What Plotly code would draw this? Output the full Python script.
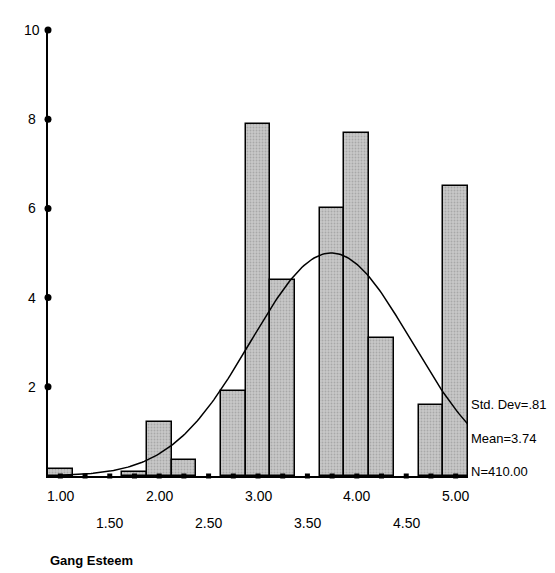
import numpy as np
import plotly.graph_objects as go

bin_centers = [1.0, 1.75, 2.0, 2.25, 2.75, 3.0, 3.25, 3.75, 4.0, 4.25, 4.75, 5.0]
counts = [0.15, 0.1, 1.2, 0.35, 1.9, 7.9, 4.4, 6.0, 7.7, 3.1, 1.6, 6.5]
x_labels_top = ["1.00", "2.00", "3.00", "4.00", "5.00"]
x_labels_low = ["1.50", "2.50", "3.50", "4.50"]
y_ticks = [2, 4, 6, 8, 10]
std_dev, mean, n = 0.81, 3.74, 410.00
curve_peak = 5.0

fig = go.Figure()
fig.add_trace(go.Bar(x=bin_centers, y=counts, width=0.25,
                     marker=dict(color="#c8c8c8", line=dict(color="black", width=1.5),
                                 pattern=dict(shape=".", fgcolor="#888", size=3, solidity=0.3))))

xs = np.linspace(1.0, 5.12, 200)
ys = curve_peak * np.exp(-0.5 * ((xs - mean) / std_dev) ** 2)
fig.add_trace(go.Scatter(x=xs, y=ys, mode="lines", line=dict(color="black", width=1.5)))

# tick dots along the axes
tx = np.arange(1.0, 5.01, 0.25)
fig.add_trace(go.Scatter(x=tx, y=[0] * len(tx), mode="markers", cliponaxis=False,
                         marker=dict(color="black", size=5, symbol="square")))
fig.add_trace(go.Scatter(x=[0.875] * len(y_ticks), y=y_ticks, mode="markers", cliponaxis=False,
                         marker=dict(color="black", size=7)))

ann = []
for lab in x_labels_top:
    ann.append(dict(x=float(lab), y=0, yshift=-20, text=lab, showarrow=False))
for lab in x_labels_low:
    ann.append(dict(x=float(lab), y=0, yshift=-47, text=lab, showarrow=False))
for t in y_ticks:
    ann.append(dict(x=0.875, y=t, xshift=-16, text=str(t), showarrow=False))
stats = ["Std. Dev=" + f"{std_dev:.2f}".lstrip("0"), f"Mean={mean:.2f}", f"N={n:.2f}"]
for i, s in enumerate(stats):
    ann.append(dict(x=5.125, y=1.6 - i * 0.75, xanchor="left", xshift=1, text=s,
                    showarrow=False, font=dict(size=13, color="black", family="Liberation Sans")))
ann.append(dict(xref="paper", yref="paper", x=0, y=-0.21, xanchor="left",
                text="<b>Gang Esteem</b>", showarrow=False, font=dict(size=13)))
for a in ann:
    a.setdefault("font", dict(size=14, color="black", family="Liberation Sans"))
    a.setdefault("xref", "x")
    a.setdefault("yref", "y")

fig.update_layout(
    width=555, height=573, showlegend=False, bargap=0,
    plot_bgcolor="white", paper_bgcolor="white",
    margin=dict(l=40, r=95, t=22, b=105),
    font=dict(family="Liberation Sans", color="black"),
    xaxis=dict(range=[0.875, 5.125], showgrid=False, zeroline=False, showline=True,
               linecolor="black", linewidth=1.5, showticklabels=False, ticks=""),
    yaxis=dict(range=[0, 10], showgrid=False, zeroline=False, showline=True,
               linecolor="black", linewidth=1.5, showticklabels=False, ticks=""),
    annotations=ann,
)
fig.write_html("out.html")
